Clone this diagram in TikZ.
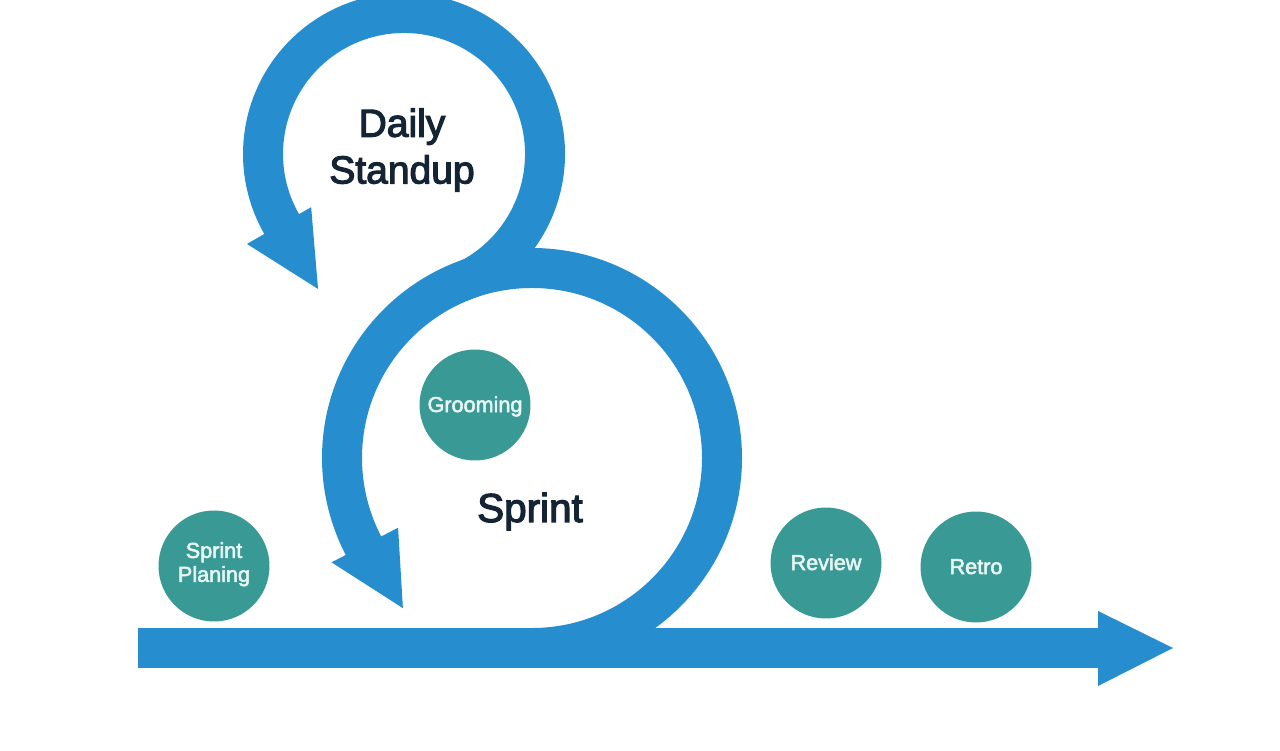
\documentclass[tikz,border=0pt]{standalone}
\usepackage{fontspec}
\setmainfont{Liberation Sans}
\newfontfamily\titlefont{Liberation Sans}[FakeBold=3]
\newfontfamily\eventfont{Liberation Sans}[FakeBold=2.5]
\usetikzlibrary{calc}
\definecolor{loopblue}{RGB}{38,142,207}
\definecolor{eventteal}{RGB}{57,153,148}
\definecolor{labelink}{RGB}{20,36,52}
\definecolor{eventink}{RGB}{232,246,244}
\def\ringhead(#1)(#2:#3:#4)(#5:#6){\fill[loopblue] ($(#1)+(#2:#3)$) -- ($(#1)+(#2:#4)$) -- ($(#1)+(#5:#6)$) -- cycle;}
\tikzset{
	ring/.style={draw=loopblue, line width=0.8cm},
	event/.style={circle, fill=eventteal, text=eventink, minimum size=2.22cm, inner sep=0pt, align=center, text height=0.9em, text depth=0.1em, font=\eventfont\fontsize{12.3}{13.6}\selectfont},
	title/.style={text=labelink, align=center, font=\titlefont\fontsize{22.2}{26.6}\selectfont}
}

\begin{document}
\begin{tikzpicture}[x=0.02cm, y=0.02cm]
		%%%%% START %%%%%
		\useasboundingbox[fill=white] (0, 0) rectangle (1280, 750);
		
		\coordinate (daily) at (404, 596);
		\coordinate (sprint) at (532, 292);
		\coordinate (start) at (138, 102);
		\coordinate (finish) at (1099, 102);
		
		% daily loop
		\draw[ring] ($(daily)+(-67.2:141)$) arc[start angle=-67.2, end angle=210.8, radius=141];
		\ringhead(daily)(209.8:107:181)(237.5:160)
		
		% timeline
		\draw[ring] (start) -- (finish);
		\fill[loopblue] ($(finish)+(-1, 37)$) -- ($(finish)+(74, 0)$) -- ($(finish)+(-1, -38)$) -- cycle;
		
		% sprint loop
		\fill[white] (sprint) circle (170);
		\draw[ring] ($(sprint)+(-90:190)$) arc[start angle=-90, end angle=208.5, radius=190];
		\ringhead(sprint)(207.5:151:226)(229.3:198)
		
		\node[title] (dailylabel) at (402, 600) {Daily\\Standup};
		\node[title, font=\titlefont\fontsize{23}{26.6}\selectfont, anchor=base] (sprintlabel) at (530, 228) {Sprint};
		
		\node[event, text height=1.9em] (planing) at (214, 184) {Sprint\\Planing};
		\node[event] (grooming) at (475, 345) {Grooming};
		\node[event] (review) at (826, 187) {Review};
		\node[event] (retro) at (976, 183) {Retro};
		
		%%%%% END %%%%%
	\end{tikzpicture}
\end{document}
